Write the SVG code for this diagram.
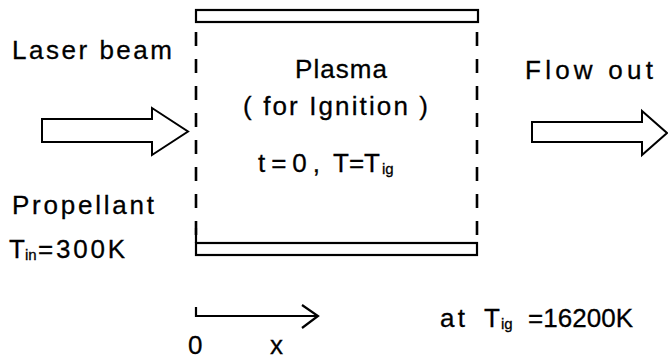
<svg xmlns="http://www.w3.org/2000/svg" width="668" height="361" viewBox="0 0 668 361">
<style>
text{font-family:"Liberation Sans","DejaVu Sans",sans-serif;font-size:26px;fill:#000;stroke:#000;stroke-width:0.3}
.sub{font-size:15px}
.ln{fill:none;stroke:#000;stroke-width:2.2}
.dash{fill:none;stroke:#000;stroke-width:2.6;stroke-dasharray:14 13}
.arr{fill:#fff;stroke:#000;stroke-width:2;stroke-linejoin:miter}
</style>
<rect width="668" height="361" fill="#fff"/>
<g id="chamber">
<rect class="ln" x="196" y="10" width="282" height="12"/>
<rect class="ln" x="196" y="243" width="281" height="12"/>
<line class="dash" x1="196" y1="32" x2="196" y2="243"/>
<line class="dash" x1="477" y1="32" x2="477" y2="243"/>
<line class="ln" x1="196" y1="228" x2="196" y2="243"/>
<text x="295" y="78" textLength="92" lengthAdjust="spacing">Plasma</text>
<text x="243" y="115" textLength="185" lengthAdjust="spacing">( for Ignition )</text>
<text x="258" y="172" textLength="62" lengthAdjust="spacing">t=0,</text>
<text x="333" y="172" textLength="47" lengthAdjust="spacing">T=T</text>
<text class="sub" x="382" y="174">ig</text>
</g>
<g id="laser">
<text x="12" y="59" textLength="160" lengthAdjust="spacing">Laser beam</text>
</g>
<g id="propellant">
<text x="12" y="214" textLength="142" lengthAdjust="spacing">Propellant</text>
<text x="9" y="258">T</text>
<text class="sub" x="25" y="260">in</text>
<text x="38" y="258" textLength="87" lengthAdjust="spacing">=300K</text>
</g>
<g id="flowout">
<text x="525" y="79" textLength="128" lengthAdjust="spacing">Flow out</text>
</g>
<g id="axis">
<polyline class="ln" points="196,307 196,316 317,316"/>
<polyline class="ln" points="302,305 318,316 302,328"/>
<text x="188" y="354">0</text>
<text x="270" y="354">x</text>
</g>
<g id="condition">
<text x="440" y="327" textLength="25" lengthAdjust="spacing">at</text>
<text x="484" y="327">T</text>
<text class="sub" x="501" y="329">ig</text>
<text x="528" y="327" textLength="105" lengthAdjust="spacing">=16200K</text>
</g>
<g id="connectors">
<polygon class="arr" points="42,119 152,119 152,108 188,131.5 152,155 152,142 42,142"/>
<polygon class="arr" points="532,122 642,122 642,111 667,133 642,155 642,142 532,142"/>
</g>
</svg>
